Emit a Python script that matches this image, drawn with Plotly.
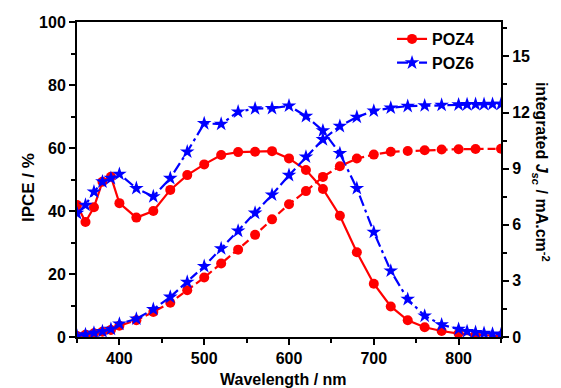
import plotly.graph_objects as go

# ---- data ----
x_poz4 = [350, 360, 370, 380, 390, 400, 420, 440, 460, 480, 500, 520, 540, 560,
          580, 600, 620, 640, 660, 680, 700, 720, 740, 760, 780, 800, 820, 850]
ipce_poz4 = [41.9, 36.5, 41.2, 49.3, 50.9, 42.5, 37.9, 40.0, 46.7, 51.4, 54.8, 57.8, 58.7, 58.8,
             59.0, 56.7, 53.0, 47.0, 38.5, 26.9, 16.9, 9.7, 5.3, 3.1, 1.9, 1.1, 0.7, 0.3]
jsc_poz4 = [0.05, 0.12, 0.2, 0.28, 0.38, 0.6, 0.9, 1.34, 1.83, 2.5, 3.18, 3.93, 4.67, 5.46,
            6.29, 7.1, 7.8, 8.56, 9.13, 9.54, 9.75, 9.9, 9.94, 9.98, 10.02, 10.04, 10.05, 10.06]

x_poz6 = [350, 360, 370, 380, 390, 400, 420, 440, 460, 480, 500, 520, 540, 560,
          580, 600, 620, 640, 660, 680, 700, 720, 740, 760, 780, 800, 810, 820, 830, 840, 850]
ipce_poz6 = [39.3, 41.9, 46.1, 49.3, 50.4, 51.7, 47.2, 44.6, 50.4, 58.8, 67.8, 67.6, 71.5, 72.5,
             72.6, 73.4, 70.1, 65.5, 58.3, 47.2, 33.3, 21.0, 12.0, 6.7, 3.9, 2.5, 1.8, 1.5, 1.2, 1.0, 0.8]
jsc_poz6 = [0.05, 0.13, 0.22, 0.3, 0.42, 0.7, 0.97, 1.48, 2.14, 2.94, 3.78, 4.73, 5.67, 6.63,
            7.6, 8.65, 9.63, 10.56, 11.27, 11.76, 12.09, 12.25, 12.34, 12.37, 12.4, 12.42, 12.43,
            12.44, 12.44, 12.45, 12.45]

x_ticks = [400, 500, 600, 700, 800]
ipce_ticks = [0, 20, 40, 60, 80, 100]
jsc_ticks = [0, 3, 6, 9, 12, 15]

RED = "#ff0000"
BLUE = "#0000ff"
FONT = "Liberation Sans, Arial, sans-serif"

fig = go.Figure()

# integrated Jsc (right axis)
fig.add_trace(go.Scatter(x=x_poz4, y=jsc_poz4, yaxis="y2", mode="lines+markers",
                         line=dict(color=RED, width=2.2, dash="8px,4px"),
                         marker=dict(symbol="circle", size=10, color=RED),
                         showlegend=False))
fig.add_trace(go.Scatter(x=x_poz6, y=jsc_poz6, yaxis="y2", mode="lines+markers",
                         line=dict(color=BLUE, width=2.2, dash="9px,4px"),
                         marker=dict(symbol="star", size=11, color=BLUE, line=dict(width=0)),
                         showlegend=False))
# IPCE (left axis)
fig.add_trace(go.Scatter(x=x_poz4, y=ipce_poz4, mode="lines+markers", name="POZ4",
                         line=dict(color=RED, width=2.2),
                         marker=dict(symbol="circle", size=10, color=RED)))
fig.add_trace(go.Scatter(x=x_poz6, y=ipce_poz6, mode="lines+markers", name="POZ6",
                         line=dict(color=BLUE, width=2.2, dash="11px,4px,3px,4px"),
                         marker=dict(symbol="star", size=11, color=BLUE, line=dict(width=0))))

axis_common = dict(showgrid=False, zeroline=False, showline=True, linecolor="black",
                   linewidth=2, ticks="outside", ticklen=6, tickwidth=2, tickcolor="black",
                   automargin=False,
                   tickfont=dict(family=FONT, size=16, color="black", weight="bold"))

title_font = dict(family=FONT, size=16, color="black", weight="bold")

fig.update_layout(
    width=561, height=388,
    margin=dict(l=77, r=60, t=22, b=51),
    paper_bgcolor="white", plot_bgcolor="white",
    font=dict(family=FONT, color="black"),
    xaxis=dict(range=[350, 850], tickvals=x_ticks, mirror=True,
               minor=dict(dtick=50, ticks="outside", ticklen=4, tickwidth=2, tickcolor="black"),
               **axis_common),
    yaxis=dict(range=[0, 100], tickvals=ipce_ticks,
               minor=dict(dtick=10, ticks="outside", ticklen=4, tickwidth=2, tickcolor="black"),
               **axis_common),
    yaxis2=dict(range=[0, 16.84], tickvals=jsc_ticks, overlaying="y", side="right",
                minor=dict(tick0=0, dtick=1.5, ticks="outside", ticklen=4, tickwidth=2,
                           tickcolor="black"),
                **axis_common),
    legend=dict(x=0.743, y=1.0, xanchor="left", yanchor="top", bgcolor="rgba(0,0,0,0)",
                itemwidth=30, tracegroupgap=0,
                font=dict(family=FONT, size=16, color="black", weight="bold")),
    annotations=[
        dict(text="Wavelength / nm", xref="paper", yref="paper", x=0.488, y=-0.1365,
             xanchor="center", yanchor="middle", showarrow=False, font=title_font),
        dict(text="IPCE / %", xref="paper", yref="paper", x=-0.1156, y=0.476,
             xanchor="center", yanchor="middle", textangle=-90, showarrow=False,
             font=dict(family=FONT, size=17, color="black", weight="bold")),
        dict(text="integrated <i>J</i><sub><i>sc</i></sub> / mA.cm<sup>-2</sup>",
             xref="paper", yref="paper", x=1.096, y=0.525, xanchor="center",
             yanchor="middle", textangle=90, showarrow=False, font=title_font),
    ],
)

fig.write_html("out.html")
